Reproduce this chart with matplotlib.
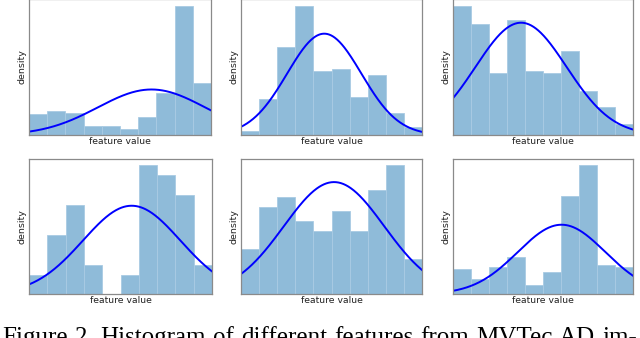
import numpy as np
import matplotlib
matplotlib.use("Agg")
import matplotlib.pyplot as plt

# Histogram bar heights (arbitrary density units), 10 bins each
hist1 = [64, 72, 65, 28, 28, 18, 54, 126, 387, 156]
hist2 = [12, 107, 265, 387, 194, 200, 115, 182, 65, 24]
hist3 = [387, 335, 186, 347, 194, 186, 254, 133, 83, 32]
hist4 = [57, 178, 268, 87, 0, 57, 386, 356, 296, 87]
hist5 = [135, 262, 291, 219, 189, 250, 189, 312, 386, 104]
hist6 = [75, 46, 81, 111, 26, 66, 295, 386, 86, 81]

# Fitted normal curves: mean (in bin units), std (bin units), peak height
fit_mean = [6.73, 4.60, 3.78, 5.61, 5.14, 6.03]
fit_std = [2.95, 2.05, 2.53, 2.66, 2.77, 2.43]
fit_peak = [137, 305, 338, 265, 336, 208]

hists = [hist1, hist2, hist3, hist4, hist5, hist6]

x_label = "feature value"
y_label = "density"
caption = "Figure 2. Histogram of different features from MVTec AD im-"

W, H = 640, 338
fig = plt.figure(figsize=(W / 100, H / 100), dpi=100)

# axes pixel boxes: (left, right, top, bottom)
boxes = [
    (29, 211, -1, 135), (241, 422, -1, 135), (453, 633, -1, 135),
    (29, 212, 159, 294), (241, 422, 159, 294), (453, 633, 159, 294),
]

for i, (l, r, t, b) in enumerate(boxes):
    ax = fig.add_axes([l / W, (H - b) / H, (r - l) / W, (b - t) / H])
    h = np.array(hists[i], dtype=float)
    edges = np.arange(len(h) + 1)
    ax.bar(edges[:-1], h, width=1.0, align="edge", color="#8fbbd9",
           edgecolor="#a9cbe3", linewidth=0.6)
    xs = np.linspace(edges[0], edges[-1], 300)
    ys = fit_peak[i] * np.exp(-0.5 * ((xs - fit_mean[i]) / fit_std[i]) ** 2)
    ax.plot(xs, ys, color="#0000ff", linewidth=1.4)
    ax.set_xlim(edges[0], edges[-1])
    top = max(h.max(), max(ys)) * 1.05
    if t < 0:
        top = top * (b - t) / b  # top pixel row hidden above the figure
    ax.set_ylim(0, top)
    ax.set_xticks([])
    ax.set_yticks([])
    for s in ax.spines.values():
        s.set_color("#8a8a8a")
        s.set_linewidth(0.9)
    ax.set_xlabel(x_label, fontsize=6.7, labelpad=1.5, color="#222222")
    ax.set_ylabel(y_label, fontsize=6.8, labelpad=1.5, color="#222222")

# Justified caption line (cut off at the bottom like the reference)
cap_left, cap_right = 2, 637
baseline = (H - 344) / H
words = caption.split(" ")
renderer = fig.canvas.get_renderer()
texts = []
widths = []
for w in words:
    t = fig.text(0, baseline, w, family="Liberation Serif", fontsize=18,
                 ha="left", va="baseline", color="black")
    texts.append(t)
    widths.append(t.get_window_extent(renderer).width)
gap = (cap_right - cap_left - sum(widths)) / (len(words) - 1)
x = cap_left
for t, wd in zip(texts, widths):
    t.set_x(x / W)
    x += wd + gap

fig.savefig("out.png", dpi=100)
